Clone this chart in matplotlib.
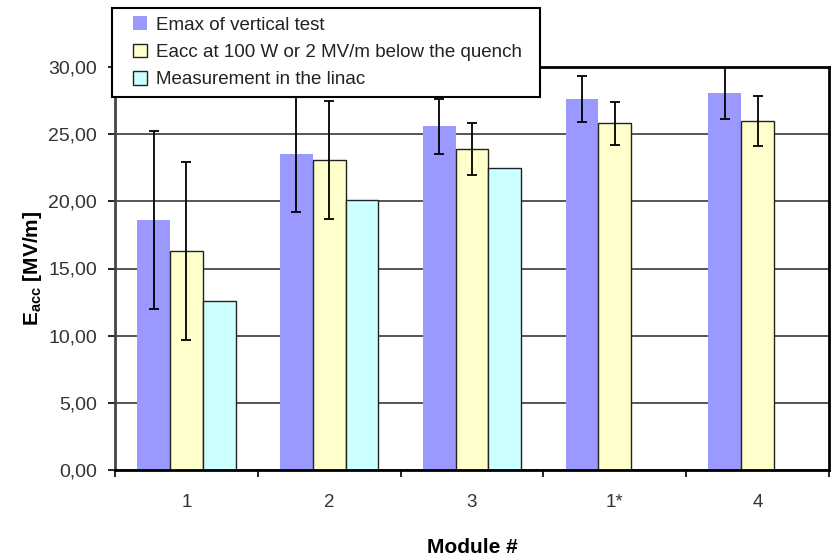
import numpy as np
import matplotlib
matplotlib.use("Agg")
import matplotlib.pyplot as plt
from matplotlib.patches import Rectangle
from matplotlib.legend_handler import HandlerPatch
from matplotlib.ticker import FuncFormatter, MultipleLocator

plt.rcParams['font.family'] = ['Liberation Sans', 'DejaVu Sans']

modules = ["1", "2", "3", "1*", "4"]
emax_vertical = [18.6, 23.5, 25.6, 27.6, 28.1]
emax_err = [6.6, 4.3, 2.05, 1.7, 2.0]
eacc_quench = [16.3, 23.1, 23.9, 25.8, 26.0]
eacc_err = [6.6, 4.4, 1.95, 1.6, 1.85]
linac = [12.6, 20.1, 22.5, np.nan, np.nan]

labels = ["Emax of vertical test",
          "Eacc at 100 W or 2 MV/m below the quench",
          "Measurement in the linac"]

c_emax, c_quench, c_linac = "#9999ff", "#ffffcc", "#ccffff"
edge = "#222222"

fig = plt.figure(figsize=(8.37, 5.56), dpi=100)
ax = fig.add_axes([115/837, 1 - 470/556, 714/837, 403/556])

x = np.arange(len(modules))
w = 0.23

ax.yaxis.grid(True, color="#555555", lw=1.4)
ax.set_axisbelow(True)

err_kw = dict(ecolor="black", elinewidth=1.3, capsize=3.5, capthick=1.3)
ax.bar(x - w, emax_vertical, w, color=c_emax, edgecolor="none",
       yerr=emax_err, error_kw=err_kw)
ax.bar(x, eacc_quench, w, color=c_quench, edgecolor=edge, linewidth=1.0,
       yerr=eacc_err, error_kw=err_kw)
ax.bar(x + w, linac, w, color=c_linac, edgecolor=edge, linewidth=1.0)

ax.set_xlim(-0.5, len(modules) - 0.5)
ax.set_ylim(0, 30)
ax.yaxis.set_major_locator(MultipleLocator(5))
ax.yaxis.set_major_formatter(FuncFormatter(lambda v, p: f"{v:.2f}".replace(".", ",")))
ax.set_xticks(x)
ax.set_xticklabels(modules)
ax.set_xticks(np.arange(-0.5, len(modules)), minor=True)
ax.tick_params(axis="x", which="major", length=0, pad=17, labelsize=13.5, colors="#333333")
ax.tick_params(axis="x", which="minor", length=5, width=1.2, direction="out")
ax.tick_params(axis="y", length=5, width=1.2, direction="out", labelsize=14,
               labelcolor="#333333", pad=8)

for s in ax.spines.values():
    s.set_linewidth(2.0)
    s.set_color("black")
ax.spines["left"].set_color("#444444")

ax.set_xlabel("Module #", fontsize=15, fontweight="bold", labelpad=20)
ax.set_ylabel(r"E$_{\mathregular{acc}}$ [MV/m]", fontsize=15, fontweight="bold", labelpad=3)


def square_key(legend, orig_handle, xdescent, ydescent, width, height, fontsize):
    # small square swatch placed at the right end of the handle box
    s = 0.72 * fontsize
    return Rectangle((width - s - xdescent, -ydescent + (height - s) / 2), s, s)


keys = [Rectangle((0, 0), 1, 1, facecolor=c_emax, edgecolor="none"),
        Rectangle((0, 0), 1, 1, facecolor=c_quench, edgecolor=edge, linewidth=1.0),
        Rectangle((0, 0), 1, 1, facecolor=c_linac, edgecolor=edge, linewidth=1.0)]

leg = fig.legend(handles=keys, labels=labels, loc="upper left",
                 bbox_to_anchor=(112/837, 1 - 97/556, 428/837, 89/556), mode="expand",
                 fontsize=13.5,
                 frameon=True, fancybox=False, framealpha=1, edgecolor="black",
                 handlelength=1.4, handleheight=0.7, handletextpad=0.5,
                 labelspacing=0.55, borderpad=0.45, borderaxespad=0,
                 handler_map={Rectangle: HandlerPatch(patch_func=square_key)})
leg.get_frame().set_linewidth(1.5)
for t in leg.get_texts():
    t.set_color("#222222")

fig.savefig("out.png", dpi=100)
